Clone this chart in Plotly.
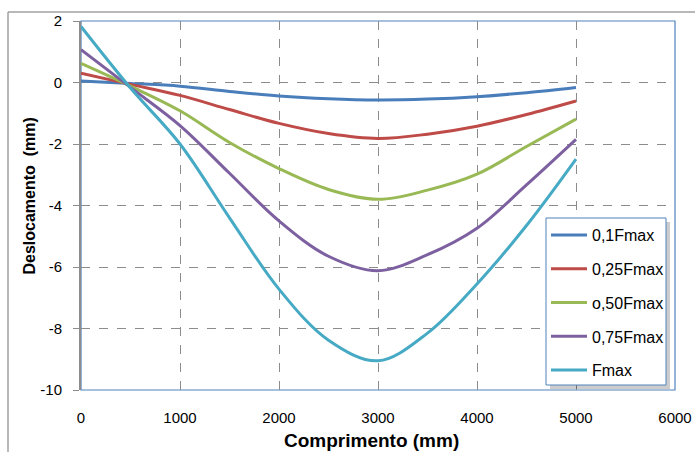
import plotly.graph_objects as go

comprimento = [0, 500, 1000, 1500, 2000, 2500, 3000, 3500, 4000, 4500, 5000]
f010 = [0.05, -0.03, -0.12, -0.29, -0.44, -0.53, -0.57, -0.54, -0.46, -0.33, -0.16]
f025 = [0.30, -0.06, -0.42, -0.88, -1.33, -1.66, -1.82, -1.68, -1.42, -1.04, -0.60]
f050 = [0.62, -0.12, -0.92, -1.95, -2.80, -3.48, -3.80, -3.50, -2.98, -2.08, -1.19]
f075 = [1.07, -0.16, -1.40, -2.95, -4.50, -5.65, -6.12, -5.60, -4.74, -3.33, -1.85]
fmax = [1.82, -0.18, -2.00, -4.40, -6.72, -8.38, -9.05, -8.15, -6.55, -4.65, -2.49]

series_names = ["0,1Fmax", "0,25Fmax", "o,50Fmax", "0,75Fmax", "Fmax"]
series_values = [f010, f025, f050, f075, fmax]
colors = ["#4A7EBB", "#BE4B48", "#98B954", "#7D60A0", "#46AAC5"]

x_ticks = [0, 1000, 2000, 3000, 4000, 5000, 6000]
y_ticks = [-10, -8, -6, -4, -2, 0, 2]

FONT = "Arial, Liberation Sans, sans-serif"

fig = go.Figure()
for name, vals, col in zip(series_names, series_values, colors):
    fig.add_trace(go.Scatter(
        x=comprimento, y=vals, name=name, mode="lines",
        line=dict(color=col, width=3, shape="spline", smoothing=1.0),
        legendgroup=name,
    ))

PW, PH = 594, 369  # plot area size in px


def px_x(px):
    return (px - 81) / PW


def px_y(py):
    return (390 - py) / PH


fig.update_layout(
    width=695, height=452,
    margin=dict(l=81, r=20, t=21, b=62),
    paper_bgcolor="white", plot_bgcolor="white",
    font=dict(family=FONT, size=15, color="#000000"),
    showlegend=True,
    legend=dict(
        x=px_x(546), y=px_y(218), xanchor="left", yanchor="top",
        bgcolor="rgba(0,0,0,0)", borderwidth=0,
        font=dict(family=FONT, size=16, color="#000000"),
        tracegroupgap=10,
        itemwidth=36,
    ),
    xaxis=dict(
        range=[0, 6000], tickvals=x_ticks, ticktext=[str(v) for v in x_ticks],
        showgrid=True, gridcolor="#8C8C8C", griddash="dash", gridwidth=1,
        zeroline=False, showline=False, ticks="", automargin=False,
        tickfont=dict(family=FONT, size=15, color="#000000"),
        ticklabelstandoff=17,
    ),
    yaxis=dict(
        range=[-10, 2], tickvals=y_ticks, ticktext=[str(v) for v in y_ticks],
        showgrid=True, gridcolor="#8C8C8C", griddash="dash", gridwidth=1,
        zeroline=False, showline=True, linecolor="#8C8C8C", linewidth=2,
        ticks="outside", ticklen=6, tickcolor="#8C8C8C", automargin=False,
        tickfont=dict(family=FONT, size=15, color="#000000"),
        ticklabelstandoff=8,
    ),
    shapes=[
        dict(type="rect", xref="paper", yref="paper", x0=0, x1=1, y0=0, y1=1,
             line=dict(color="#4F81BD", width=1.2), layer="below"),
        dict(type="line", xref="paper", yref="paper", x0=px_x(8), x1=1.2,
             y0=px_y(12), y1=px_y(12), line=dict(color="#A0A0A0", width=1.5)),
        dict(type="line", xref="paper", yref="paper", x0=px_x(8), x1=px_x(8),
             y0=-0.3, y1=px_y(12), line=dict(color="#A0A0A0", width=1.5)),
        # legend shadow
        dict(type="rect", xref="paper", yref="paper",
             x0=px_x(550), x1=px_x(670), y0=px_y(389), y1=px_y(222),
             fillcolor="rgba(0,0,0,0.2)", line=dict(width=0), layer="above"),
        # legend box
        dict(type="rect", xref="paper", yref="paper",
             x0=px_x(546), x1=px_x(666), y0=px_y(385), y1=px_y(218),
             fillcolor="white", line=dict(color="#4F81BD", width=1), layer="above"),
    ],
    annotations=[
        dict(text="<b>Comprimento (mm)</b>", xref="paper", yref="paper",
             x=px_x(371), y=px_y(440), xanchor="center", yanchor="middle",
             showarrow=False, font=dict(family=FONT, size=19, color="#000000")),
        dict(text="<b>Deslocamento  (mm)</b>", xref="paper", yref="paper",
             x=px_x(29), y=px_y(196.5), xanchor="center", yanchor="middle",
             textangle=-90, showarrow=False, font=dict(family=FONT, size=16, color="#000000")),
    ],
)

fig.write_html("out.html", config={"displayModeBar": False},
               post_script="document.body.style.margin='0';document.body.style.overflow='hidden';")
